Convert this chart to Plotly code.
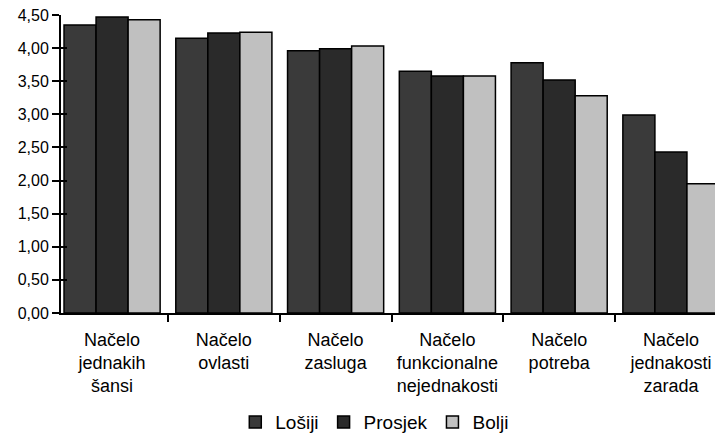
import plotly.graph_objects as go

categories = ["Načelo<br>jednakih<br>šansi", "Načelo<br>ovlasti", "Načelo<br>zasluga",
              "Načelo<br>funkcionalne<br>nejednakosti", "Načelo<br>potreba",
              "Načelo<br>jednakosti<br>zarada"]
losiji = [4.35, 4.15, 3.96, 3.65, 3.78, 2.99]
prosjek = [4.47, 4.23, 3.99, 3.58, 3.52, 2.43]
bolji = [4.43, 4.24, 4.03, 3.58, 3.28, 1.95]
tick_vals = [0, 0.5, 1, 1.5, 2, 2.5, 3, 3.5, 4, 4.5]
tick_text = ["0,00", "0,50", "1,00", "1,50", "2,00", "2,50", "3,00", "3,50", "4,00", "4,50"]

series = [("Lošiji", losiji, "#3a3a3a"), ("Prosjek", prosjek, "#2a2a2a"), ("Bolji", bolji, "#c0c0c0")]

fig = go.Figure()
for name, vals, col in series:
    fig.add_trace(go.Bar(x=categories, y=vals, name=name,
                         marker=dict(color=col, line=dict(color="black", width=1.5))))

# invisible trace for inner y ticks
fig.add_trace(go.Scatter(x=[categories[0]], y=[0], yaxis="y2", mode="markers",
                         marker=dict(opacity=0), showlegend=False, hoverinfo="skip"))

font = "Liberation Sans, Arial, sans-serif"
fig.update_layout(
    width=715, height=425,
    margin=dict(l=53, r=0, t=7, b=120, autoexpand=False),
    paper_bgcolor="white", plot_bgcolor="white",
    barmode="group", bargap=0.14, bargroupgap=0,
    font=dict(family=font, color="black", size=16),
    xaxis=dict(range=[-0.457, 5.466], showline=True, linecolor="black", linewidth=2,
               ticks="outside", tickson="boundaries", ticklen=7, tickwidth=1.5, tickcolor="black",
               tickfont=dict(size=18, family=font), showgrid=False, automargin=False,
               ticklabelstandoff=9, ticklabeloverflow="allow"),
    yaxis=dict(range=[0, 4.5], tickvals=tick_vals, ticktext=tick_text, showline=True,
               linecolor="black", linewidth=2, ticks="outside", ticklen=7, tickwidth=1.5,
               tickcolor="black", showgrid=False, zeroline=False, automargin=False,
               tickfont=dict(size=16, family=font), ticklabeloverflow="allow"),
    yaxis2=dict(range=[0, 4.5], tickvals=tick_vals, overlaying="y", side="left",
                ticks="inside", ticklen=6, tickwidth=1.5, tickcolor="black",
                showticklabels=False, showgrid=False, zeroline=False, showline=False,
                automargin=False),
    legend=dict(orientation="h", x=0.474, xanchor="center", y=-0.366, yanchor="middle",
                font=dict(size=19, family=font), itemwidth=30, traceorder="normal"),
)
fig.write_html("out.html")
